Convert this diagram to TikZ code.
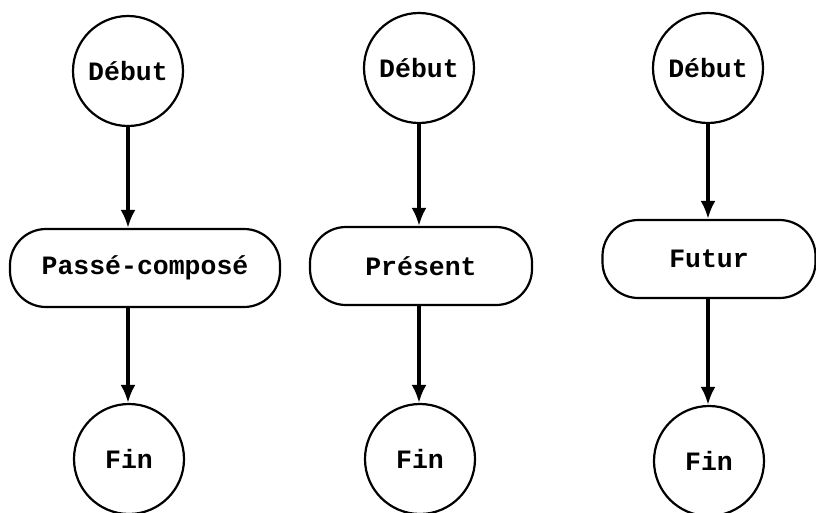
\documentclass[tikz,border=0pt]{standalone}
\usepackage{fontspec}
\setmonofont{Liberation Mono}
\usetikzlibrary{arrows.meta}
\begin{document}
\begin{tikzpicture}[x=1pt,y=-1pt,
  lbl/.style={font=\ttfamily\bfseries\fontsize{26.5}{30}\selectfont},
  circ/.style={lbl, circle, draw, line width=2.2pt, minimum size=110pt, inner sep=0pt},
  pill/.style={lbl, rectangle, rounded corners=36pt, draw, line width=2.2pt, inner sep=0pt},
  arr/.style={line width=3.4pt, -{Latex[length=18pt,width=15pt]}, shorten <=-1pt}
]
\useasboundingbox (0,0) rectangle (816,512);
% column 1
\node[circ] (d1) at (128,71) {Début};
\node[pill, minimum width=270pt, minimum height=78pt] (p1) at (145,268) {Passé-composé};
\node[circ] (f1) at (129,459) {Fin};
% column 2
\node[circ] (d2) at (419,68) {Début};
\node[pill, minimum width=222pt, minimum height=78pt] (p2) at (421,266) {Présent};
\node[circ] (f2) at (420,459) {Fin};
% column 3
\node[circ] (d3) at (708,68) {Début};
\node[pill, minimum width=213pt, minimum height=78pt] (p3) at (709,259) {Futur};
\node[circ] (f3) at (709,461) {Fin};
% connectors
\draw[arr] (d1.south) -- (d1.south |- p1.north);
\draw[arr] (d1.south |- p1.south) -- (d1.south |- f1.north);
\draw[arr] (d2.south) -- (d2.south |- p2.north);
\draw[arr] (d2.south |- p2.south) -- (d2.south |- f2.north);
\draw[arr] (d3.south) -- (d3.south |- p3.north);
\draw[arr] (d3.south |- p3.south) -- (d3.south |- f3.north);
\end{tikzpicture}
\end{document}
